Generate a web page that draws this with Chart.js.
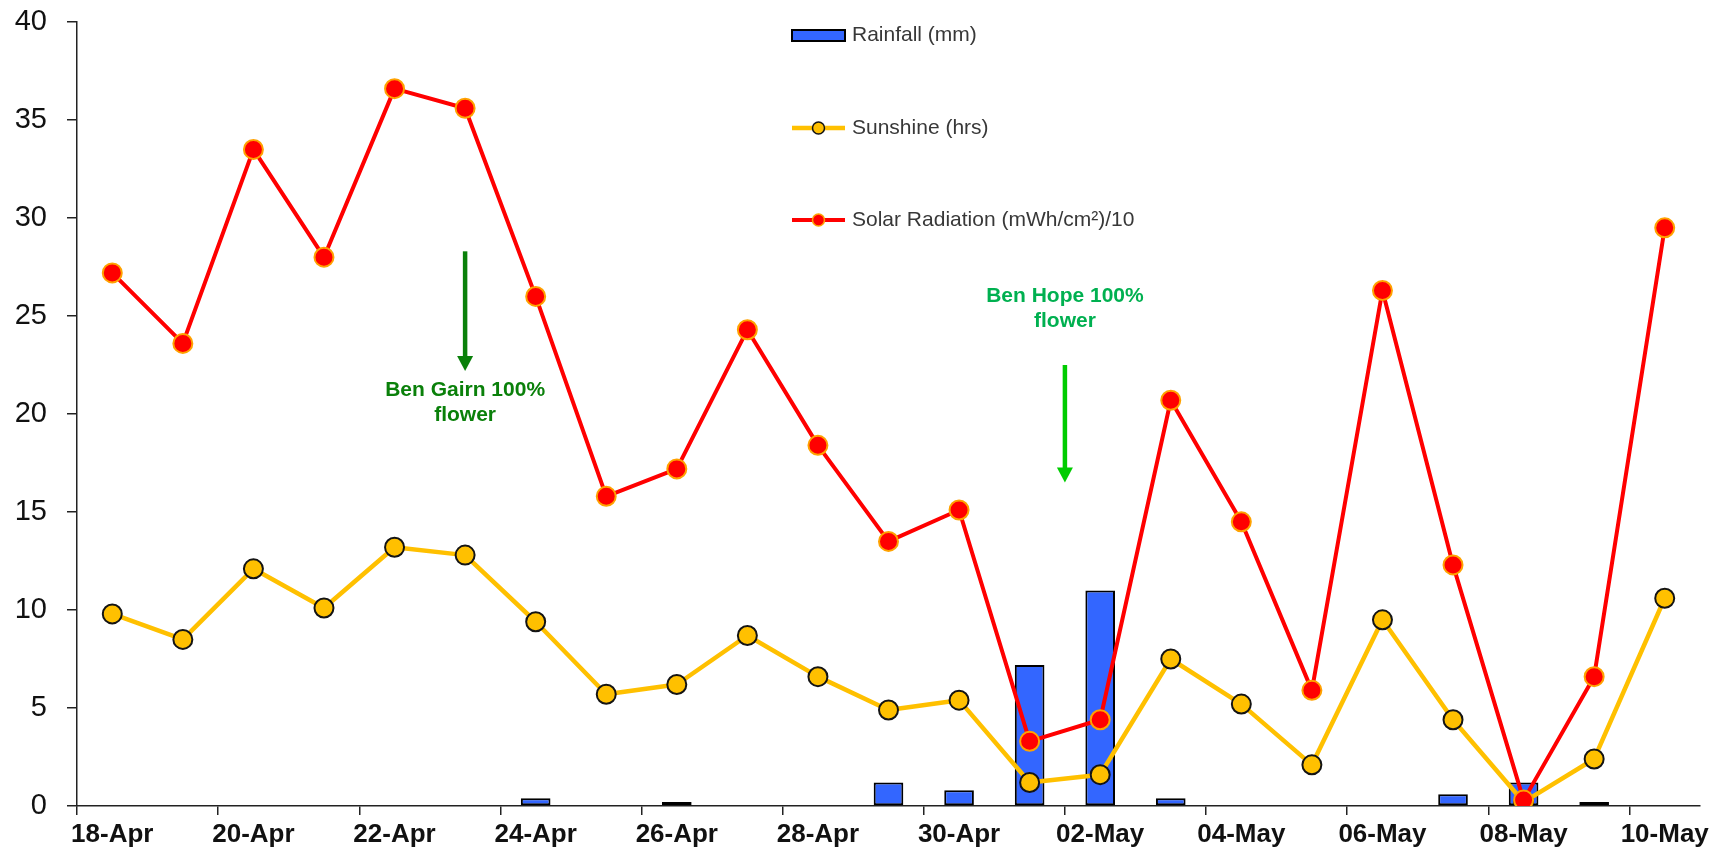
<!DOCTYPE html>
<html>
<head>
    <meta charset="utf-8">
    <title>Rainfall, Sunshine and Solar Radiation</title>
    <script src="https://cdn.jsdelivr.net/npm/chart.js@4"></script>
    <style>
        body { margin: 0; background: #fff; }
        #wrap { width: 1723px; height: 852px; }
    </style>
</head>
<body>
<div id="wrap"><canvas id="weatherChart" width="1723" height="852"></canvas></div>
<script>
    const days = ['18-Apr', '19-Apr', '20-Apr', '21-Apr', '22-Apr', '23-Apr', '24-Apr', '25-Apr',
        '26-Apr', '27-Apr', '28-Apr', '29-Apr', '30-Apr', '01-May', '02-May', '03-May', '04-May',
        '05-May', '06-May', '07-May', '08-May', '09-May', '10-May'];

    const rainfall = [0, 0, 0, 0, 0, 0, 0.4, 0, 0.2, 0, 0, 1.2, 0.8, 7.2, 11.0, 0.4, 0, 0, 0, 0.6, 1.2, 0.2, 0];
    const sunshine = [9.8, 8.5, 12.1, 10.1, 13.2, 12.8, 9.4, 5.7, 6.2, 8.7, 6.6, 4.9, 5.4, 1.2, 1.6, 7.5, 5.2, 2.1, 9.5, 4.4, 0.2, 2.4, 10.6];
    const solar = [27.2, 23.6, 33.5, 28.0, 36.6, 35.6, 26.0, 15.8, 17.2, 24.3, 18.4, 13.5, 15.1, 3.3, 4.4, 20.7, 14.5, 5.9, 26.3, 12.3, 0.3, 6.6, 29.5];

    const seriesNames = ['Rainfall (mm)', 'Sunshine (hrs)', 'Solar Radiation (mWh/cm\u00B2)/10'];

    // flowering notes: where on the date axis, and arrow / text heights in axis units
    const noteText = [['Ben Gairn 100%', 'flower'], ['Ben Hope 100%', 'flower']];
    const noteAt = [5, 13.5];
    const noteTextY = [21.2, 26.0];
    const arrowFrom = [28.3, 22.5];
    const arrowTo = [22.2, 16.5];
    const noteColours = ['#0A800A', '#00B050'];
    const arrowColours = ['#0A800A', '#00CC00'];

    Chart.defaults.font.family = '"Liberation Sans", Arial, sans-serif';

    const flowerNotes = {
        id: 'flowerNotes',
        afterDatasetsDraw(chart) {
            const { ctx, scales: { x, y } } = chart;
            ctx.save();
            noteAt.forEach((pos, i) => {
                const px = x.getPixelForValue(pos);
                const top = y.getPixelForValue(arrowFrom[i]);
                const tip = y.getPixelForValue(arrowTo[i]);
                ctx.strokeStyle = arrowColours[i];
                ctx.fillStyle = arrowColours[i];
                ctx.lineWidth = 4.5;
                ctx.beginPath();
                ctx.moveTo(px, top);
                ctx.lineTo(px, tip - 12);
                ctx.stroke();
                ctx.beginPath();
                ctx.moveTo(px - 8, tip - 15);
                ctx.lineTo(px + 8, tip - 15);
                ctx.lineTo(px, tip);
                ctx.closePath();
                ctx.fill();

                ctx.font = 'bold 21px "Liberation Sans", Arial, sans-serif';
                ctx.textAlign = 'center';
                ctx.textBaseline = 'middle';
                ctx.fillStyle = noteColours[i];
                const ty = y.getPixelForValue(noteTextY[i]);
                noteText[i].forEach((line, j) => ctx.fillText(line, px, ty + j * 24.5));
            });
            ctx.restore();
        }
    };

    // legend stacked in the upper middle of the plot
    const stackedLegend = {
        id: 'stackedLegend',
        afterDraw(chart) {
            const ctx = chart.ctx;
            const ds = chart.data.datasets;
            const x0 = 792, x1 = 845, tx = 852;
            const rows = [35, 128, 220];
            ctx.save();
            // rainfall box
            ctx.fillStyle = ds[0].backgroundColor;
            ctx.strokeStyle = ds[0].borderColor;
            ctx.lineWidth = 2;
            ctx.fillRect(x0, rows[0] - 5, x1 - x0, 11);
            ctx.strokeRect(x0, rows[0] - 5, x1 - x0, 11);
            // line series
            [1, 2].forEach(k => {
                const d = ds[k];
                const cy = rows[k];
                ctx.strokeStyle = d.borderColor;
                ctx.lineWidth = d.borderWidth;
                ctx.beginPath();
                ctx.moveTo(x0, cy);
                ctx.lineTo(x1, cy);
                ctx.stroke();
                ctx.beginPath();
                ctx.arc((x0 + x1) / 2, cy, 6, 0, Math.PI * 2);
                ctx.fillStyle = d.pointBackgroundColor;
                ctx.fill();
                ctx.lineWidth = 1.5;
                ctx.strokeStyle = d.pointBorderColor;
                ctx.stroke();
            });
            ctx.font = '21px "Liberation Sans", Arial, sans-serif';
            ctx.fillStyle = '#383838';
            ctx.textAlign = 'left';
            ctx.textBaseline = 'middle';
            seriesNames.forEach((name, k) => ctx.fillText(name, tx, rows[k]));
            ctx.restore();
        }
    };

    const ctx = document.getElementById('weatherChart').getContext('2d');
    const weatherChart = new Chart(ctx, {
        type: 'bar',
        data: {
            labels: days,
            datasets: [{
                type: 'bar',
                label: seriesNames[0],
                data: rainfall,
                backgroundColor: '#3366FF',
                borderColor: '#000000',
                borderWidth: 2,
                borderSkipped: false,
                barPercentage: 0.42,
                categoryPercentage: 1,
                order: 3
            }, {
                type: 'line',
                label: seriesNames[1],
                data: sunshine,
                borderColor: '#FFC000',
                borderWidth: 4.5,
                borderJoinStyle: 'round',
                pointRadius: 9.5,
                pointBackgroundColor: '#FFC000',
                pointBorderColor: '#141414',
                pointBorderWidth: 2,
                tension: 0,
                order: 2
            }, {
                type: 'line',
                label: seriesNames[2],
                data: solar,
                borderColor: '#FF0000',
                borderWidth: 4,
                borderJoinStyle: 'round',
                pointRadius: 9.5,
                pointBackgroundColor: '#FF0000',
                pointBorderColor: '#FFA200',
                pointBorderWidth: 2,
                tension: 0,
                order: 1
            }]
        },
        options: {
            responsive: false,
            animation: false,
            layout: { padding: { top: 22, right: 23, left: 0, bottom: 0 } },
            plugins: {
                legend: { display: false },
                tooltip: { enabled: false }
            },
            scales: {
                x: {
                    offset: true,
                    grid: {
                        offset: true,
                        drawOnChartArea: false,
                        tickLength: 9,
                        lineWidth: 1.5,
                        color: c => c.index % 2 === 0 ? '#222' : 'rgba(0,0,0,0)'
                    },
                    border: { color: '#222', width: 1.5 },
                    ticks: {
                        autoSkip: false,
                        maxRotation: 0,
                        padding: 4,
                        color: '#111',
                        font: { size: 26, weight: 'bold' },
                        callback: function (v, i) {
                            return i % 2 === 0 ? this.getLabelForValue(v) : '';
                        }
                    },
                    afterFit: s => { s.height = 46; }
                },
                y: {
                    min: 0,
                    max: 40,
                    ticks: { stepSize: 5, padding: 20, color: '#111', font: { size: 29 } },
                    grid: { drawOnChartArea: false, tickLength: 10, color: '#222', lineWidth: 1.5 },
                    border: { color: '#222', width: 1.5 },
                    afterFit: s => {
                        s.width = 77;
                        // the top label may overhang the plot; keep the plot edges fixed
                        s.paddingTop = 0;
                        s.paddingBottom = 0;
                    }
                }
            }
        },
        plugins: [flowerNotes, stackedLegend]
    });
</script>
</body>
</html>
